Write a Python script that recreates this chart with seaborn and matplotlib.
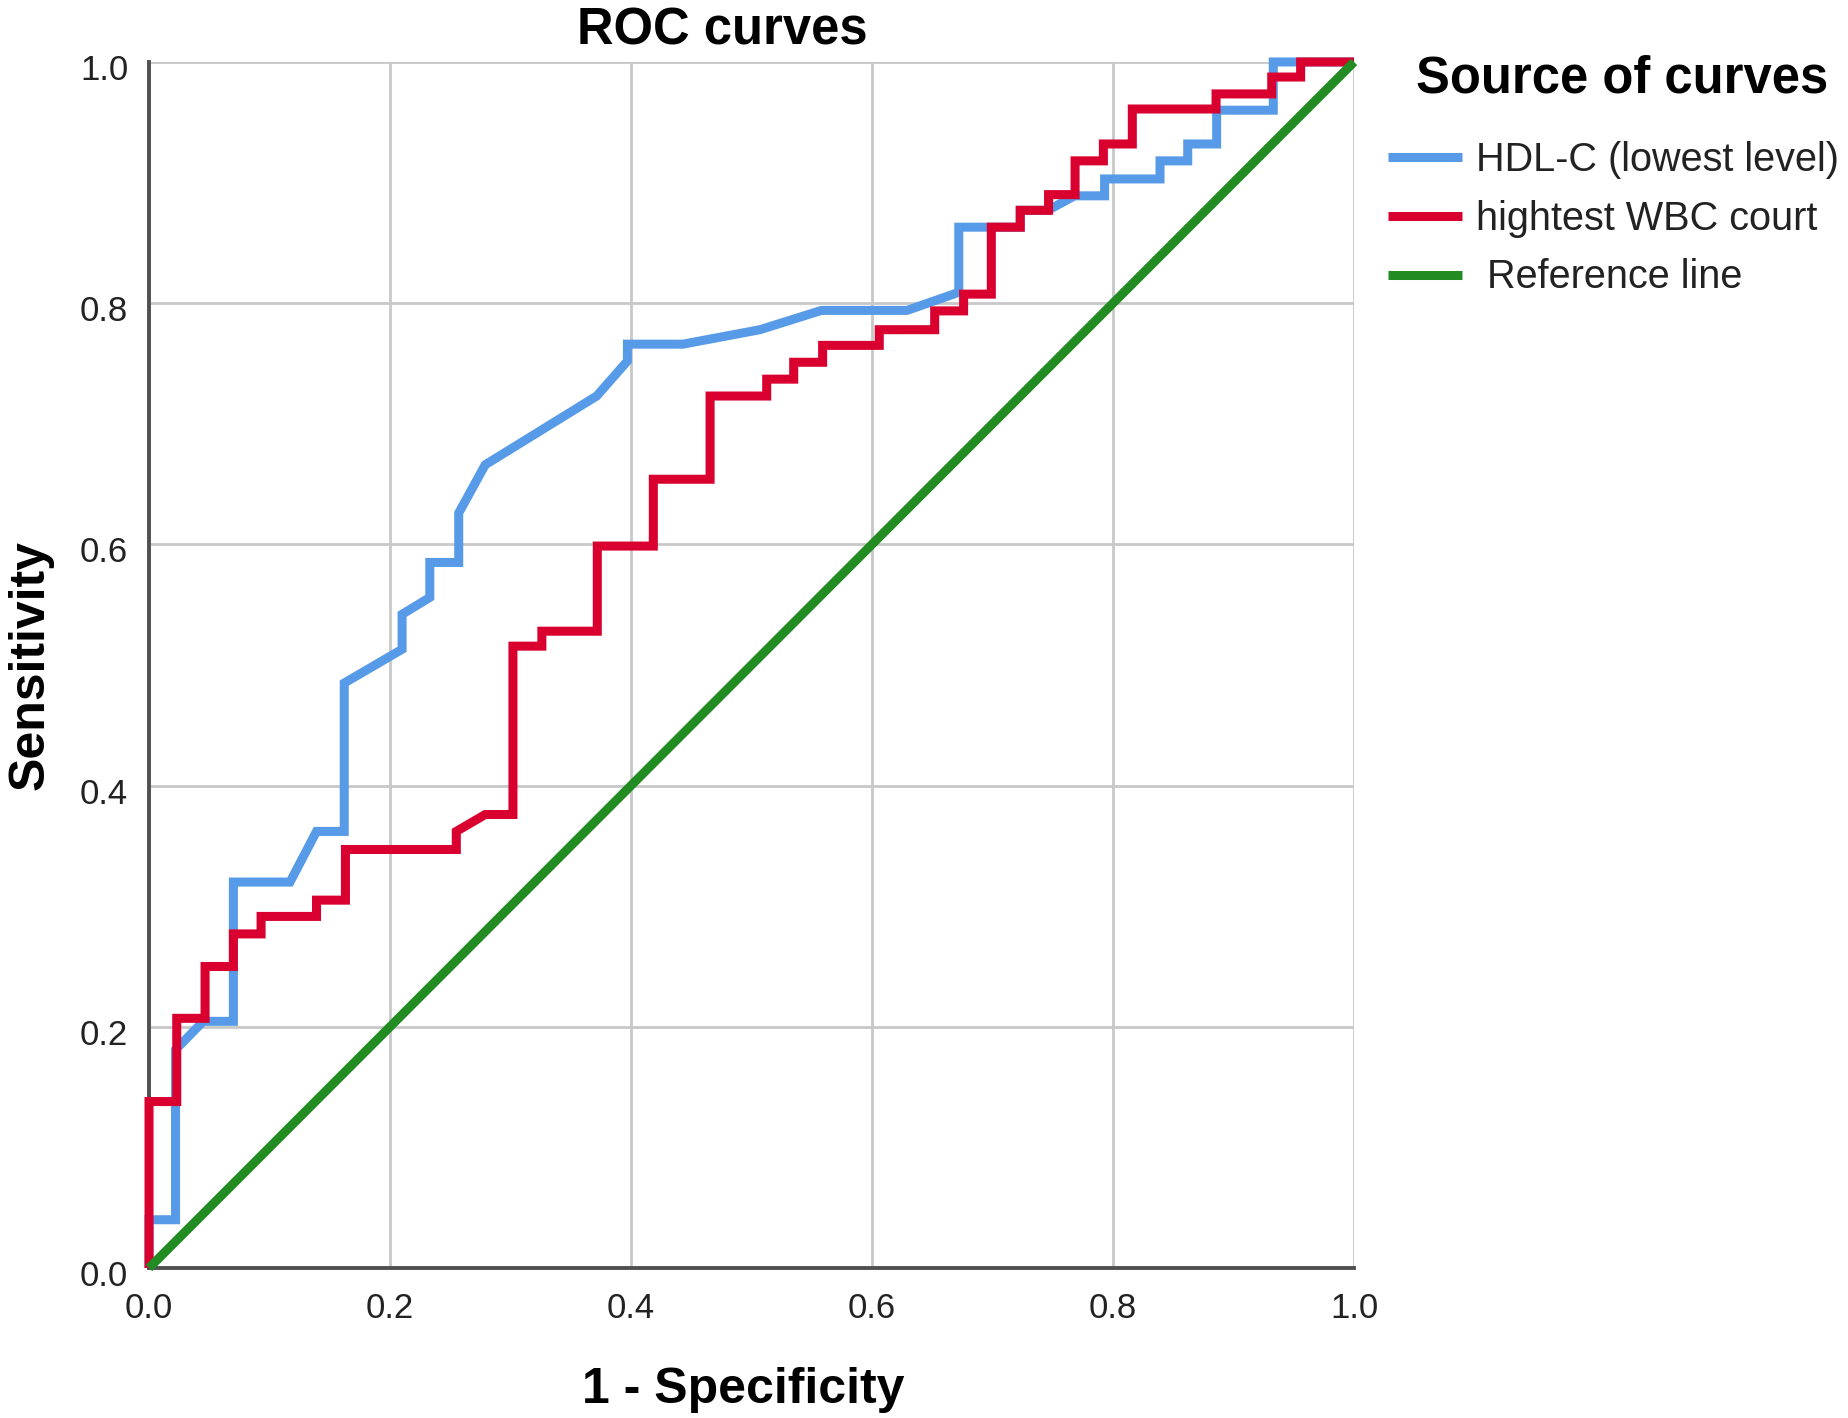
import pandas as pd
import seaborn as sns
import matplotlib.pyplot as plt
from matplotlib.transforms import ScaledTranslation

# ROC step vertices (1 - specificity, sensitivity)
hdl_x = [0, 0, 0.022, 0.022, 0.045, 0.070, 0.070, 0.117, 0.139, 0.162, 0.162,
         0.210, 0.210, 0.233, 0.233, 0.257, 0.257, 0.279, 0.3715, 0.397, 0.397,
         0.443, 0.507, 0.558, 0.629, 0.672, 0.672, 0.723, 0.723, 0.746, 0.768,
         0.793, 0.793, 0.839, 0.839, 0.862, 0.862, 0.886, 0.886, 0.933, 0.933, 1.0]
hdl_y = [0, 0.040, 0.040, 0.181, 0.2045, 0.2045, 0.320, 0.320, 0.362, 0.362, 0.485,
         0.513, 0.542, 0.556, 0.585, 0.585, 0.626, 0.666, 0.723, 0.752, 0.766,
         0.766, 0.778, 0.794, 0.794, 0.809, 0.863, 0.863, 0.877, 0.877, 0.889,
         0.889, 0.903, 0.903, 0.918, 0.918, 0.932, 0.932, 0.960, 0.960, 1.0, 1.0]

wbc_x = [0, 0, 0.023, 0.023, 0.0465, 0.0465, 0.070, 0.070, 0.093, 0.093, 0.139,
         0.139, 0.163, 0.163, 0.255, 0.255, 0.279, 0.302, 0.302, 0.326, 0.326,
         0.372, 0.372, 0.4185, 0.4185, 0.4656, 0.4656, 0.5126, 0.5126, 0.535,
         0.535, 0.559, 0.559, 0.606, 0.606, 0.652, 0.652, 0.676, 0.676, 0.699,
         0.699, 0.723, 0.723, 0.7465, 0.7465, 0.7685, 0.7685, 0.792, 0.792,
         0.816, 0.816, 0.8855, 0.8855, 0.9317, 0.9317, 0.9557, 0.9557, 1.0]
wbc_y = [0, 0.138, 0.138, 0.207, 0.207, 0.250, 0.250, 0.277, 0.277, 0.2915, 0.2915,
         0.305, 0.305, 0.347, 0.347, 0.362, 0.376, 0.376, 0.5156, 0.5156, 0.528,
         0.528, 0.5986, 0.5986, 0.654, 0.654, 0.723, 0.723, 0.737, 0.737,
         0.751, 0.751, 0.765, 0.765, 0.778, 0.778, 0.7936, 0.7936, 0.8075, 0.8075,
         0.863, 0.863, 0.877, 0.877, 0.890, 0.890, 0.918, 0.918, 0.932,
         0.932, 0.961, 0.961, 0.9735, 0.9735, 0.9875, 0.9875, 1.0, 1.0]

ref_x = [0, 1]
ref_y = [0, 1]

labels = ["HDL-C (lowest level)", "hightest WBC court", " Reference line"]
colors = ["#579be8", "#d9002f", "#228b22"]
ticks = [0.0, 0.2, 0.4, 0.6, 0.8, 1.0]

df = pd.DataFrame({
    "x": hdl_x + wbc_x + ref_x,
    "y": hdl_y + wbc_y + ref_y,
    "Source": [labels[0]] * len(hdl_x) + [labels[1]] * len(wbc_x) + [labels[2]] * len(ref_x),
})

sns.set_theme(style="white")
plt.rcParams["font.family"] = ["Liberation Sans", "DejaVu Sans"]
plt.rcParams["lines.solid_joinstyle"] = "miter"
plt.rcParams["lines.solid_capstyle"] = "butt"

fig = plt.figure(figsize=(18.49, 14.18), dpi=100)
ax = fig.add_axes([0.0806, 0.1058, 0.6517, 0.8505])

sns.lineplot(data=df, x="x", y="y", hue="Source", hue_order=labels,
             palette=dict(zip(labels, colors)), sort=False, estimator=None,
             linewidth=6.5, ax=ax, zorder=3, clip_on=False)

ax.set_xlim(0, 1)
ax.set_ylim(0, 1)
ax.set_xticks(ticks)
ax.set_yticks(ticks)
ax.set_xticklabels([f"{t:.1f}" for t in ticks])
ax.set_yticklabels([f"{t:.1f}" for t in ticks])
ax.grid(True, color="#c8c8c8", linewidth=2)
ax.set_axisbelow(True)
ax.tick_params(axis="both", length=0, labelsize=25, labelcolor="#222222")
ax.tick_params(axis="x", pad=17)
ax.tick_params(axis="y", pad=15)
for lab in ax.get_yticklabels():
    lab.set_transform(lab.get_transform() + ScaledTranslation(0, -0.05, fig.dpi_scale_trans))

for side in ["top", "right"]:
    ax.spines[side].set_visible(False)
for side in ["left", "bottom"]:
    ax.spines[side].set_color("#505050")
    ax.spines[side].set_linewidth(2.8)

ax.set_xlabel("")
ax.set_ylabel("")

fig.text(0.3905, 0.9688, "ROC curves", ha="center", va="baseline",
         fontsize=36.5, fontweight="bold", color="black")
fig.text(0.4018, 0.0106, "1 - Specificity", ha="center", va="baseline",
         fontsize=36, fontweight="bold", color="black")
fig.text(0.0234, 0.531, "Sensitivity", ha="center", va="baseline", rotation=90,
         rotation_mode="anchor", fontsize=36, fontweight="bold", color="black")
fig.text(0.8772, 0.935, "Source of curves", ha="center", va="baseline",
         fontsize=36.5, fontweight="bold", color="black")

leg = ax.legend(loc="upper left",
                bbox_to_anchor=(0.7507, 0.9004), bbox_transform=fig.transFigure,
                frameon=False, fontsize=28.5, labelcolor="#222222",
                handlelength=1.87, handletextpad=0.35, labelspacing=0.52,
                borderpad=0, borderaxespad=0)
for line in leg.get_lines():
    line.set_linewidth(6.5)

plt.savefig("out.png", dpi=100)
